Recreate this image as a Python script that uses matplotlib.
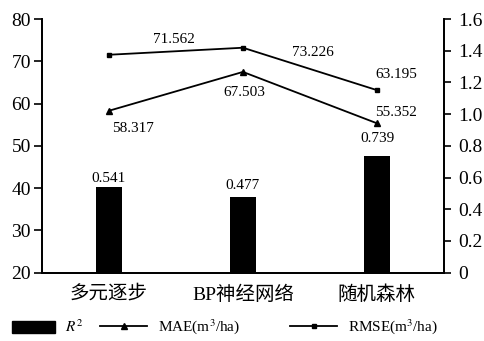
import matplotlib.pyplot as plt
from matplotlib.lines import Line2D
from matplotlib.patches import Patch

plt.rcParams['font.family'] = ['Liberation Serif', 'Noto Sans CJK SC']
plt.rcParams['mathtext.fontset'] = 'stix'

methods = ['多元逐步', 'BP神经网络', '随机森林']
r2 = [0.541, 0.477, 0.739]
mae = [58.317, 67.503, 55.352]
rmse = [71.562, 73.226, 63.195]

# label offsets in pixels (dx, dy) relative to each point
rmse_off = [(65, 15), (70, -5), (19, 16)]
mae_off = [(24, -18), (1, -21), (19, 11)]
r2_off = [(0, 8), (0, 12), (1, 17)]

fig = plt.figure(figsize=(4.84, 3.41), dpi=100)
ax = fig.add_axes([0.0868, 0.2003, 0.8303, 0.7437])
ax2 = ax.twinx()

x = list(range(len(methods)))
ax2.bar(x, r2, width=0.19, color='black')
ax.plot(x, mae, color='black', lw=1.3, marker='^', ms=4.5)
ax.plot(x, rmse, color='black', lw=1.3, marker='s', ms=2.5)

ax.set_xlim(-0.5, 2.5)
ax.set_ylim(20, 80)
ax.set_yticks(range(20, 81, 10))
ax2.set_ylim(0, 1.6)
ax2.set_yticks([0, 0.2, 0.4, 0.6, 0.8, 1.0, 1.2, 1.4, 1.6])
ax2.set_yticklabels(['0', '0.2', '0.4', '0.6', '0.8', '1.0', '1.2', '1.4', '1.6'])

ax.set_xticks(x)
ax.set_xticklabels(methods, fontsize=14)
ax.tick_params(axis='x', length=0, pad=9)
ax.tick_params(axis='y', labelsize=14, length=6, width=1.2, direction='out', pad=2)
ax2.tick_params(axis='y', labelsize=14, length=5, width=1.2, direction='out', pad=5)

for a in (ax, ax2):
    a.spines['top'].set_visible(False)
    for s in ('left', 'right', 'bottom'):
        a.spines[s].set_linewidth(1.3)

for i in x:
    ax.annotate(f'{rmse[i]:.3f}', (i, rmse[i]), xytext=rmse_off[i], textcoords='offset pixels',
                ha='center', va='center', fontsize=11)
    ax.annotate(f'{mae[i]:.3f}', (i, mae[i]), xytext=mae_off[i], textcoords='offset pixels',
                ha='center', va='center', fontsize=11)
    ax2.annotate(f'{r2[i]:.3f}', (i, r2[i]), xytext=r2_off[i], textcoords='offset pixels',
                 ha='center', va='center', fontsize=11)

# legend: one entry per legend so the spacing can follow the reference
entries = [
    (Patch(color='black'), '$R^2$', 2.8, 12),
    (Line2D([], [], color='black', lw=1.3, marker='^', ms=4.5), 'MAE(m$^3$/ha)', 3.1, 100),
    (Line2D([], [], color='black', lw=1.3, marker='s', ms=2.5), 'RMSE(m$^3$/ha)', 3.1, 290),
]
for h, lab, hl, px in entries:
    fig.legend([h], [lab], loc='center left', bbox_to_anchor=(px / 484, 1 - 327 / 341),
               frameon=False, fontsize=11, handlelength=hl, handleheight=0.75,
               handletextpad=0.7, borderpad=0, borderaxespad=0)

fig.savefig('out.png', dpi=100)
